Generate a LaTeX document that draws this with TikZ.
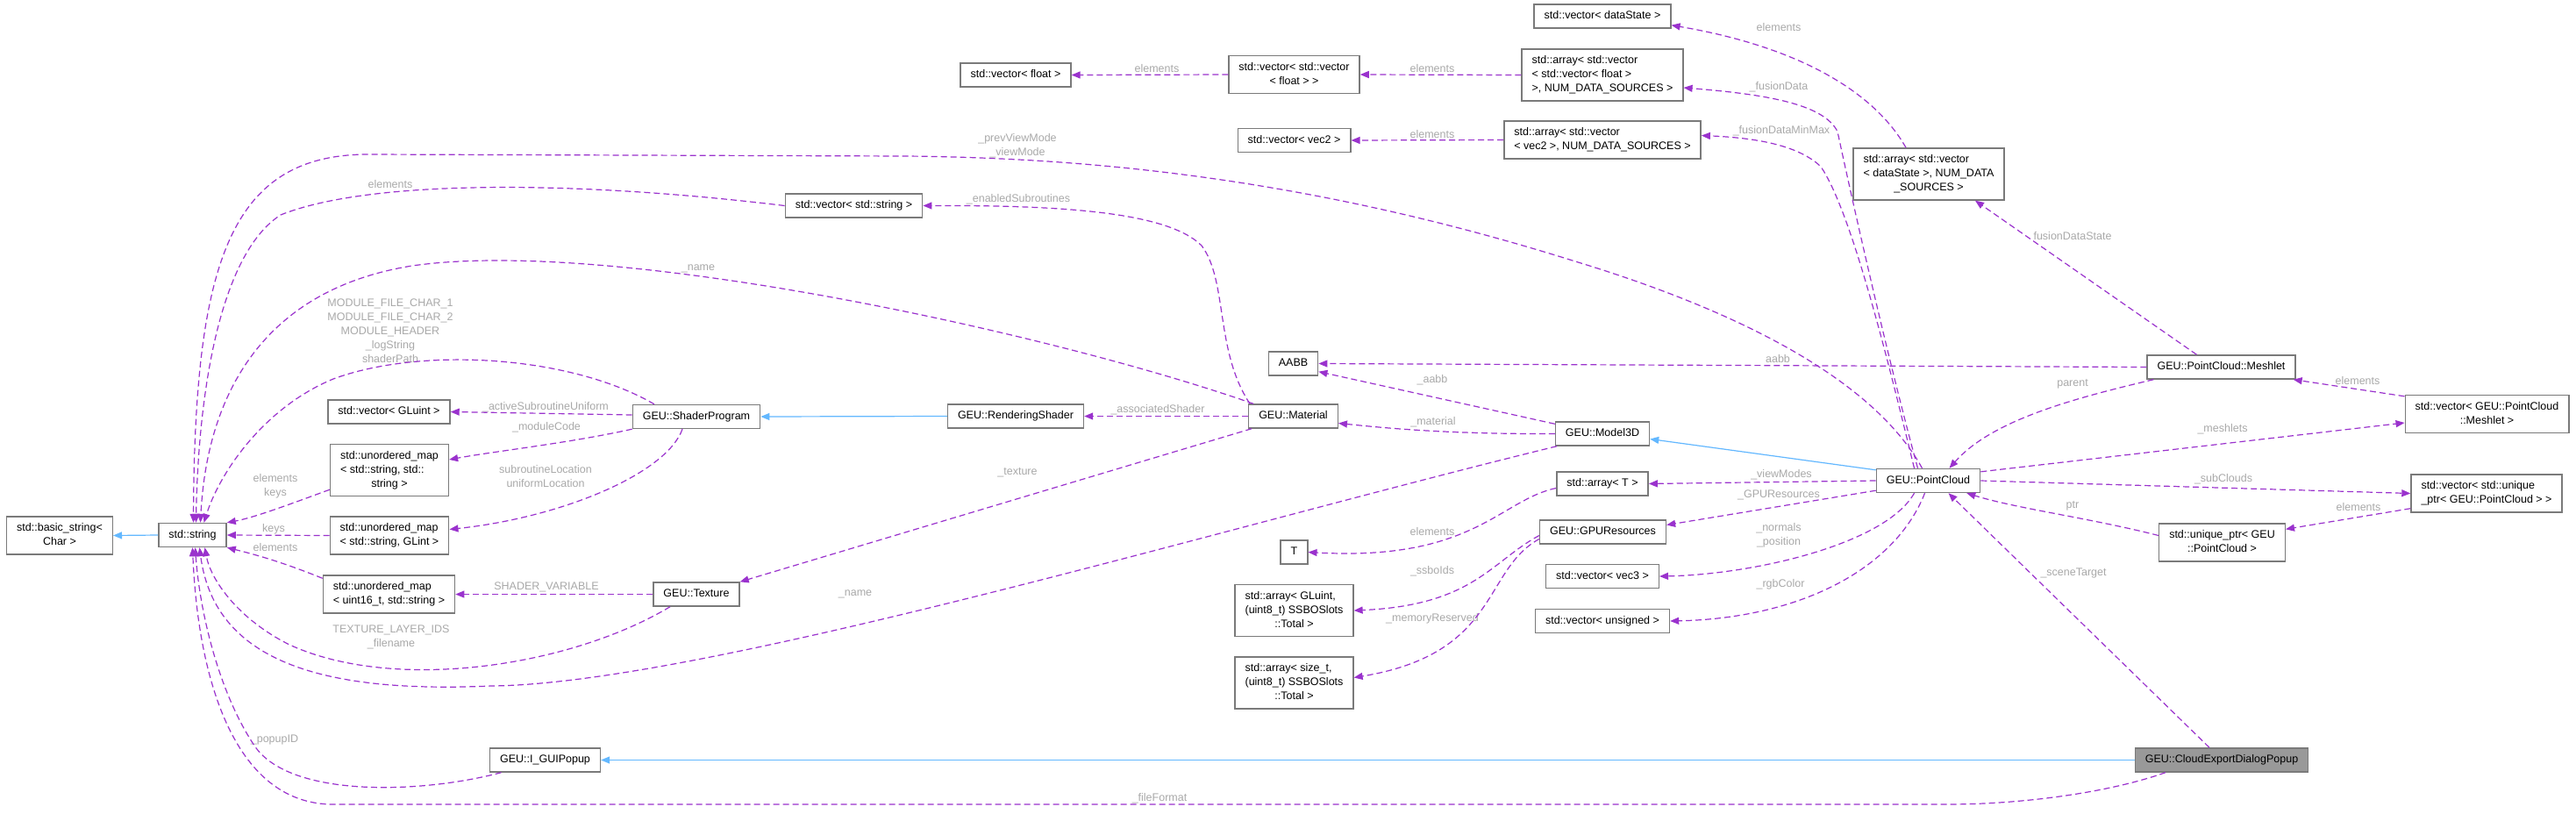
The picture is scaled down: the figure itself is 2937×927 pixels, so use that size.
\documentclass[tikz,border=0pt]{standalone}
\usepackage{fontspec}
\setmainfont{Liberation Sans}
\usetikzlibrary{arrows.meta}

\definecolor{depcol}{HTML}{9A32CD}
\definecolor{inhcol}{HTML}{63B8FF}
\definecolor{boxline}{HTML}{7A7A7A}
\definecolor{hilite}{HTML}{999999}
\definecolor{lblcol}{HTML}{A9A9A9}

\newcommand{\cname}[1]{\begin{tabular}{@{}l@{}}#1\end{tabular}}
\newcommand{\lastln}[1]{\multicolumn{1}{@{}c@{}}{#1}}

\begin{document}
\begin{tikzpicture}[
  x=1pt,
  y=-1pt,
  font=\fontsize{12.5}{16}\selectfont,
  cls/.style={draw=boxline, fill=white, line width=1.4pt, minimum height=27pt, inner xsep=11.5pt, inner ysep=5.5pt},
  focus/.style={cls, fill=hilite},
  lbl/.style={text=lblcol, inner sep=0pt, align=center},
  dep/.style={draw=depcol, line width=1.2pt, dash pattern=on 7pt off 4pt, -{Triangle[length=10pt,width=8pt]}},
  inh/.style={draw=inhcol, line width=1.2pt, -{Triangle[length=10pt,width=8pt]}}
]
  \fill[white] (0,0) rectangle (2937,927);
  \useasboundingbox (0,0) rectangle (2937,927);

  % classes
  \node[cls] (n_bstr) at (68,610.5) {\cname{std::basic\_string<\\\lastln{Char >}}};
  \node[cls] (n_str) at (219.5,610) {\cname{std::string}};
  \node[cls] (n_vgluint) at (443.5,469.5) {\cname{std::vector< GLuint >}};
  \node[cls] (n_umss) at (444,536) {\cname{std::unordered\_map\\< std::string, std::\\\lastln{string >}}};
  \node[cls] (n_umsg) at (444,610.5) {\cname{std::unordered\_map\\\lastln{< std::string, GLint >}}};
  \node[cls] (n_umus) at (443.5,677.5) {\cname{std::unordered\_map\\\lastln{< uint16\_t, std::string >}}};
  \node[cls] (n_shader) at (794,475) {\cname{GEU::ShaderProgram}};
  \node[cls] (n_tex) at (794,677.5) {\cname{GEU::Texture}};
  \node[cls] (n_gui) at (621.5,866.5) {\cname{GEU::I\_GUIPopup}};
  \node[cls] (n_vstr) at (973.5,234.5) {\cname{std::vector< std::string >}};
  \node[cls] (n_render) at (1158,474.5) {\cname{GEU::RenderingShader}};
  \node[cls] (n_mat) at (1474.5,474.5) {\cname{GEU::Material}};
  \node[cls] (n_aabb) at (1474.5,414.5) {\cname{AABB}};
  \node[cls] (n_model) at (1827,494.5) {\cname{GEU::Model3D}};
  \node[cls] (n_arrT) at (1827,551.5) {\cname{std::array< T >}};
  \node[cls] (n_gpu) at (1827.5,606.5) {\cname{GEU::GPUResources}};
  \node[cls] (n_T) at (1475.5,629.5) {\cname{T}};
  \node[cls] (n_arrgl) at (1475.5,696) {\cname{std::array< GLuint,\\(uint8\_t) SSBOSlots\\\lastln{::Total >}}};
  \node[cls] (n_arrsz) at (1475.5,778.5) {\cname{std::array< size\_t,\\(uint8\_t) SSBOSlots\\\lastln{::Total >}}};
  \node[cls] (n_vvec3) at (1827,657) {\cname{std::vector< vec3 >}};
  \node[cls] (n_vuns) at (1827,708) {\cname{std::vector< unsigned >}};
  \node[cls] (n_vfloat) at (1158,85.5) {\cname{std::vector< float >}};
  \node[cls] (n_vvfloat) at (1475.5,85) {\cname{std::vector< std::vector\\\lastln{< float > >}}};
  \node[cls] (n_arrvvf) at (1827,85.5) {\cname{std::array< std::vector\\< std::vector< float >\\\lastln{>, NUM\_DATA\_SOURCES >}}};
  \node[cls] (n_vvec2) at (1475.5,160) {\cname{std::vector< vec2 >}};
  \node[cls] (n_arrvv2) at (1827,159.5) {\cname{std::array< std::vector\\\lastln{< vec2 >, NUM\_DATA\_SOURCES >}}};
  \node[cls] (n_vds) at (1827,18.5) {\cname{std::vector< dataState >}};
  \node[cls] (n_arrvds) at (2199,198.5) {\cname{std::array< std::vector\\< dataState >, NUM\_DATA\\\lastln{\_SOURCES >}}};
  \node[cls] (n_pc) at (2198.5,548) {\cname{GEU::PointCloud}};
  \node[cls] (n_meshlet) at (2532.5,418.5) {\cname{GEU::PointCloud::Meshlet}};
  \node[cls] (n_vmesh) at (2835.5,472) {\cname{std::vector< GEU::PointCloud\\\lastln{::Meshlet >}}};
  \node[cls] (n_vup) at (2835,562.5) {\cname{std::vector< std::unique\\\lastln{\_ptr< GEU::PointCloud > >}}};
  \node[cls] (n_up) at (2533.5,618.5) {\cname{std::unique\_ptr< GEU\\\lastln{::PointCloud >}}};
  \node[focus] (n_cedp) at (2533,866.5) {\cname{GEU::CloudExportDialogPopup}};

  % member labels
  \node[lbl] (l_viewmode) at (1160,166) {\_prevViewMode\\\_viewMode};
  \node[lbl] (l_strelem) at (445,210) {elements};
  \node[lbl] (l_matname) at (796,306) {\_name};
  \node[lbl] (l_shstr) at (445,377) {MODULE\_FILE\_CHAR\_1\\MODULE\_FILE\_CHAR\_2\\MODULE\_HEADER\\\_logString\\shaderPath};
  \node[lbl] (l_umsskeys) at (314,554) {elements\\keys};
  \node[lbl] (l_umsgkeys) at (312,603) {keys};
  \node[lbl] (l_umuselem) at (314,624) {elements};
  \node[lbl] (l_texstr) at (446,726) {TEXTURE\_LAYER\_IDS\\\_filename};
  \node[lbl] (l_modname) at (975,677) {\_name};
  \node[lbl] (l_popup) at (313,843) {\_popupID};
  \node[lbl] (l_format) at (1322,910) {\_fileFormat};
  \node[lbl] (l_active) at (622,464) {\_activeSubroutineUniform};
  \node[lbl] (l_module) at (623,487) {\_moduleCode};
  \node[lbl] (l_subloc) at (622,543) {subroutineLocation\\uniformLocation};
  \node[lbl] (l_assoc) at (1320,467) {\_associatedShader};
  \node[lbl] (l_enabled) at (1161,227) {\_enabledSubroutines};
  \node[lbl] (l_texture) at (1160,539) {\_texture};
  \node[lbl] (l_shvar) at (623,669) {SHADER\_VARIABLE};
  \node[lbl] (l_material) at (1634,481) {\_material};
  \node[lbl] (l_aabbm) at (1633,433) {\_aabb};
  \node[lbl] (l_vfelem) at (1319,78) {elements};
  \node[lbl] (l_vvfelem) at (1633,78) {elements};
  \node[lbl] (l_v2elem) at (1633,153) {elements};
  \node[lbl] (l_dselem) at (2028,31) {elements};
  \node[lbl] (l_fusion) at (2028,99) {\_fusionData};
  \node[lbl] (l_minmax) at (2031,149) {\_fusionDataMinMax};
  \node[lbl] (l_dstate) at (2363,269) {fusionDataState};
  \node[lbl] (l_aabb) at (2027,409) {aabb};
  \node[lbl] (l_parent) at (2363,438) {parent};
  \node[lbl] (l_meshelem) at (2688,434) {elements};
  \node[lbl] (l_meshlets) at (2534,489) {\_meshlets};
  \node[lbl] (l_viewmodes) at (2031,541) {\_viewModes};
  \node[lbl] (l_gpures) at (2028,564) {\_GPUResources};
  \node[lbl] (l_normals) at (2028,610) {\_normals\\\_position};
  \node[lbl] (l_rgb) at (2030,666) {\_rgbColor};
  \node[lbl] (l_sub) at (2535,546) {\_subClouds};
  \node[lbl] (l_upelem) at (2689,578) {elements};
  \node[lbl] (l_ptr) at (2363,577) {ptr};
  \node[lbl] (l_scene) at (2364,653) {\_sceneTarget};
  \node[lbl] (l_telem) at (1633,606) {elements};
  \node[lbl] (l_ssbo) at (1633,651) {\_ssboIds};
  \node[lbl] (l_memres) at (1633,705) {\_memoryReserved};

  % inheritance
  \draw[inh] (n_str.west) -- (n_bstr.east);
  \draw[inh] (n_render.west) -- (n_shader.east);
  \draw[inh] ([yshift=-2pt]n_pc.north west) -- ([yshift=-6pt]n_model.east);
  \draw[inh] (n_cedp.west) -- (n_gui.east);

  % into std::string
  \draw[dep] ([xshift=-7pt]n_pc.north) .. controls (2140,440) and (2000,360) .. (1796,298)
    .. controls (1500,205) and (1250,180) .. (1033,178) -- (420,176)
    .. controls (262,176) and (222,300) .. ([xshift=1pt]n_str.north);
  \draw[dep] (n_vstr.west) .. controls (650,205) and (420,205) .. (320,245)
    .. controls (250,290) and (226,450) .. ([xshift=4pt]n_str.north);
  \draw[dep] ([xshift=6pt]n_mat.north west) .. controls (1200,380) and (700,270) .. (470,303)
    .. controls (300,330) and (236,450) .. ([xshift=9pt]n_str.north);
  \draw[dep] ([xshift=-48pt]n_shader.north) .. controls (650,405) and (480,395) .. (380,432)
    .. controls (300,465) and (250,540) .. ([xshift=13pt]n_str.north);
  \draw[dep] ([yshift=8pt]n_umss.south west) .. controls (330,575) and (290,590) .. (n_str.north east);
  \draw[dep] (n_umsg.west) -- (n_str.east);
  \draw[dep] ([yshift=-4pt]n_umus.north west) .. controls (320,640) and (290,632) .. (n_str.south east);
  \draw[dep] ([xshift=-30pt]n_tex.south) .. controls (650,760) and (450,790) .. (330,735)
    .. controls (270,705) and (240,660) .. ([xshift=14pt]n_str.south);
  \draw[dep] ([xshift=-52pt]n_model.south) .. controls (1400,600) and (800,780) .. (560,782)
    .. controls (380,790) and (245,760) .. ([xshift=8pt]n_str.south);
  \draw[dep] ([xshift=-50pt]n_gui.south) .. controls (480,905) and (330,910) .. (290,850)
    .. controls (250,790) and (228,700) .. ([xshift=3pt]n_str.south);
  \draw[dep] ([xshift=-64pt]n_cedp.south) .. controls (2400,905) and (2300,917) .. (2220,917) -- (380,917)
    .. controls (270,917) and (226,780) .. (n_str.south);

  % shader side
  \draw[dep] ([yshift=2pt]n_shader.west) -- (n_vgluint.east);
  \draw[dep] (n_shader.south west) .. controls (650,505) and (560,515) .. ([yshift=12pt]n_umss.east);
  \draw[dep] ([xshift=-16pt]n_shader.south) .. controls (760,540) and (640,590) .. ([yshift=7pt]n_umsg.east);
  \draw[dep] (n_mat.west) -- (n_render.east);
  \draw[dep] ([xshift=2pt]n_mat.north west) .. controls (1385,400) and (1400,320) .. (1370,280)
    .. controls (1330,240) and (1200,234) .. (n_vstr.east);
  \draw[dep] ([xshift=4pt]n_mat.south west) -- (n_tex.north east);
  \draw[dep] (n_tex.west) -- (n_umus.east);
  \draw[dep] (n_model.west) .. controls (1650,495) and (1580,488) .. ([yshift=-8pt]n_mat.east);
  \draw[dep] ([yshift=-3pt]n_model.north west) -- ([yshift=5pt]n_aabb.south east);

  % containers
  \draw[dep] (n_vvfloat.west) -- (n_vfloat.east);
  \draw[dep] (n_arrvvf.west) -- (n_vvfloat.east);
  \draw[dep] (n_arrvv2.west) -- (n_vvec2.east);
  \draw[dep] ([xshift=-26pt]n_arrvds.north) .. controls (2140,110) and (2060,55) .. ([yshift=4pt]n_vds.south east);
  \draw[dep] ([yshift=-5pt]n_arrT.west) .. controls (1710,570) and (1680,640) .. (n_T.east);
  \draw[dep] ([yshift=-4pt]n_gpu.west) .. controls (1700,640) and (1680,690) .. (n_arrgl.east);
  \draw[dep] ([yshift=-8pt]n_gpu.west) .. controls (1690,650) and (1710,745) .. ([yshift=6pt]n_arrsz.east);

  % point cloud
  \draw[dep] ([xshift=-12pt]n_pc.north) .. controls (2150,400) and (2110,220) .. (2095,150)
    .. controls (2080,120) and (2020,108) .. ([yshift=-14.5pt]n_arrvvf.east);
  \draw[dep] ([xshift=-16pt]n_pc.north) .. controls (2150,400) and (2110,240) .. (2076,190)
    .. controls (2050,165) and (2000,157) .. ([yshift=5pt]n_arrvv2.east);
  \draw[dep] ([xshift=-28pt]n_meshlet.north) -- ([xshift=53pt]n_arrvds.south);
  \draw[dep] (n_meshlet.west) -- (n_aabb.east);
  \draw[dep] ([xshift=8pt]n_meshlet.south west) .. controls (2360,455) and (2270,480) .. ([xshift=24pt]n_pc.north);
  \draw[dep] ([yshift=-2pt]n_vmesh.north west) -- ([xshift=-3pt]n_meshlet.south east);
  \draw[dep] ([yshift=-4pt]n_pc.north east) -- ([yshift=-10pt]n_vmesh.west);
  \draw[dep] (n_pc.west) -- (n_arrT.east);
  \draw[dep] ([yshift=3pt]n_pc.south west) -- ([yshift=8pt]n_gpu.east);
  \draw[dep] ([xshift=-16pt]n_pc.south) .. controls (2150,620) and (2000,655) .. (n_vvec3.east);
  \draw[dep] ([xshift=-4pt]n_pc.south) .. controls (2160,650) and (2050,705) .. (n_vuns.east);
  \draw[dep] (n_pc.east) -- (n_vup.west);
  \draw[dep] ([yshift=5pt]n_vup.south west) -- ([yshift=-7pt]n_up.north east);
  \draw[dep] ([yshift=8pt]n_up.west) .. controls (2380,590) and (2300,580) .. ([xshift=-16pt]n_pc.south east);
  \draw[dep] ([xshift=-14pt]n_cedp.north) -- ([xshift=23pt]n_pc.south);
\end{tikzpicture}
\end{document}
